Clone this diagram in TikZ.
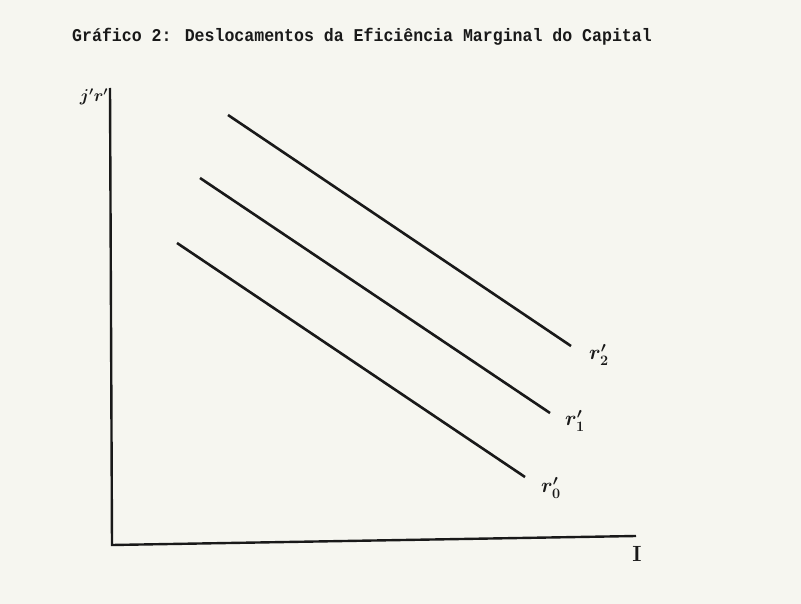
\documentclass[tikz,border=0pt]{standalone}
\usepackage{fontspec}
\newfontfamily\typew[FakeStretch=0.92]{Liberation Mono}
\definecolor{paper}{RGB}{246,246,240}
\definecolor{ink}{RGB}{25,25,25}
\begin{document}
\begin{tikzpicture}[x=1pt,y=-1pt,
  axis/.style={draw=ink,line width=2.4pt},
  curve/.style={draw=ink,line width=2.6pt},
  lab/.style={text=ink,inner sep=0pt,font=\boldmath\fontsize{22}{22}\selectfont}]
\fill[paper] (0,0) rectangle (801,604);
\useasboundingbox (0,0) rectangle (801,604);
\node[text=ink,inner sep=0pt,anchor=west,font=\typew\bfseries\fontsize{18}{18}\selectfont] (title) at (72,37) {Gráfico 2: Deslocamentos da Eficiência Marginal do Capital};
\coordinate (ytop) at (110,88);
\coordinate (orig) at (112,545);
\coordinate (xend) at (636,536);
\draw[axis] (ytop) -- (orig) -- (xend);
\node[lab,font=\boldmath\fontsize{18}{18}\selectfont] (ylab) at (94,97) {$j'r'$};
\node[lab,font=\bfseries\fontsize{22}{22}\selectfont] (xlab) at (637,554) {I};
\coordinate (a2) at (228,115); \coordinate (b2) at (571,346);
\coordinate (a1) at (200,178); \coordinate (b1) at (550,413);
\coordinate (a0) at (177,243); \coordinate (b0) at (525,477);
\draw[curve] (a2) -- (b2);
\draw[curve] (a1) -- (b1);
\draw[curve] (a0) -- (b0);
\node[lab] (l2) at (599,355) {$r'_2$};
\node[lab] (l1) at (575,421) {$r'_1$};
\node[lab] (l0) at (551,488) {$r'_0$};
\end{tikzpicture}
\end{document}
